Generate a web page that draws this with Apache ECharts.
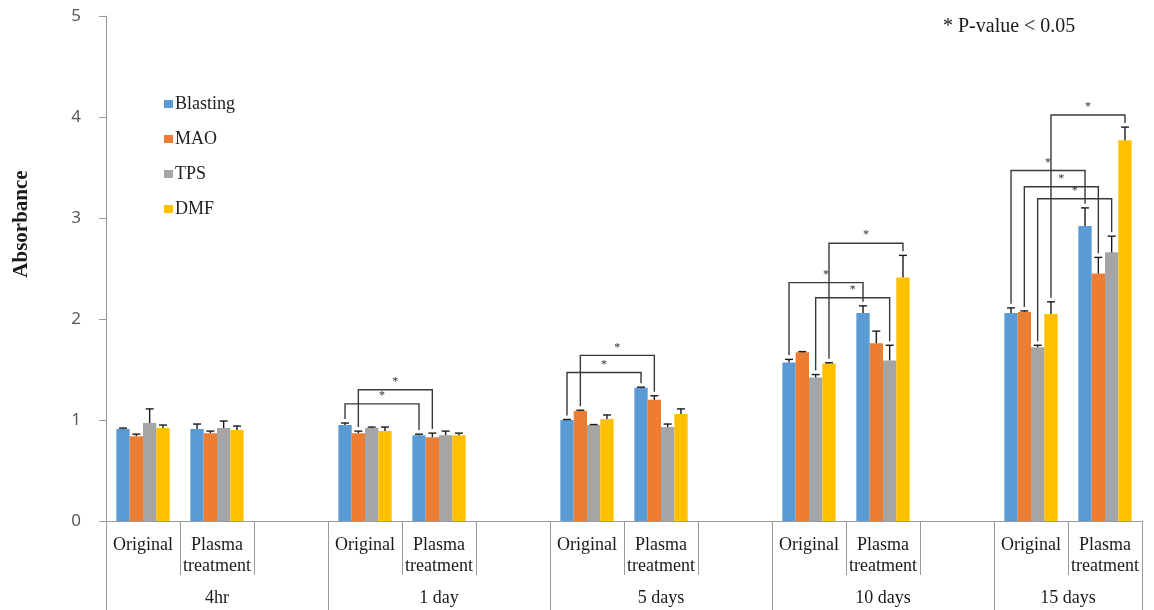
<!DOCTYPE html>
<html>
<head>
<meta charset="utf-8">
<script src="https://cdn.jsdelivr.net/npm/echarts@6/dist/echarts.min.js"></script>
<style>
  html, body { margin: 0; padding: 0; background: #ffffff; }
  #chart { width: 1154px; height: 610px; }
</style>
</head>
<body>
<div id="chart"></div>
<script>
// Culture periods and surface treatments
const groups = ['4hr', '1 day', '5 days', '10 days', '15 days'];
const treatments = ['Original', 'Plasma\ntreatment'];
const seriesNames = ['Blasting', 'MAO', 'TPS', 'DMF'];
const seriesColors = ['#5B9BD5', '#ED7D31', '#A5A5A5', '#FFC000'];

// Mean absorbance, order: 4hr O, 4hr P, 1d O, 1d P, 5d O, 5d P, 10d O, 10d P, 15d O, 15d P
const blasting = [0.91, 0.91, 0.95, 0.85, 1.00, 1.32, 1.57, 2.06, 2.06, 2.92];
const mao      = [0.84, 0.87, 0.87, 0.83, 1.09, 1.20, 1.67, 1.76, 2.07, 2.45];
const tps      = [0.97, 0.92, 0.92, 0.85, 0.95, 0.93, 1.42, 1.59, 1.72, 2.66];
const dmf      = [0.92, 0.90, 0.89, 0.85, 1.01, 1.06, 1.56, 2.41, 2.05, 3.77];

// Standard deviations (upper error bars), same order
const blastingErr = [0.01, 0.05, 0.02, 0.01, 0.005, 0.005, 0.03, 0.07, 0.05, 0.18];
const maoErr      = [0.02, 0.02, 0.02, 0.04, 0.007, 0.04, 0.007, 0.12, 0.01, 0.16];
const tpsErr      = [0.14, 0.07, 0.01, 0.04, 0.005, 0.03, 0.03, 0.15, 0.02, 0.16];
const dmfErr      = [0.03, 0.04, 0.04, 0.02, 0.04, 0.05, 0.007, 0.22, 0.12, 0.13];

// Significant Original vs Plasma comparisons: [group index, series index, bracket level]
const sigPairs = [
  [1, 0, 1.16], [1, 1, 1.30],
  [2, 0, 1.47], [2, 1, 1.64],
  [3, 0, 2.36], [3, 2, 2.21], [3, 3, 2.75],
  [4, 0, 3.47], [4, 1, 3.31], [4, 2, 3.19], [4, 3, 4.02]
];

const yTicks = [0, 1, 2, 3, 4, 5];
const sigNote = '* P-value < 0.05';
const yTitle = 'Absorbance';

const means = [blasting, mao, tps, dmf];
const errs = [blastingErr, maoErr, tpsErr, dmfErr];

// Category slots: Original, Plasma, spacer per period (no spacer after the last)
const slotCats = [];
const slotCond = [];
const groupStart = [];
groups.forEach((g, gi) => {
  groupStart.push(slotCats.length);
  treatments.forEach((t, ti) => { slotCats.push(t); slotCond.push(gi * 2 + ti); });
  if (gi < groups.length - 1) { slotCats.push(''); slotCond.push(-1); }
});
const nSlots = slotCats.length;
const groupBounds = groupStart.concat([nSlots]);
const groupCenters = groups.map((g, gi) => {
  const end = gi < groups.length - 1 ? groupStart[gi + 1] : nSlots;
  return (groupStart[gi] + end) / 2;
});
const slotOf = c => slotCond.indexOf(c);

const CAT_GAP = 0.28;
const serif = 'Liberation Serif';

const barSeries = seriesNames.map((name, si) => ({
  name: name,
  type: 'bar',
  xAxisIndex: 0,
  barGap: '0%',
  barCategoryGap: (CAT_GAP * 100) + '%',
  itemStyle: { color: seriesColors[si] },
  data: slotCond.map(c => (c < 0 ? '-' : means[si][c])),
  silent: true,
  z: 2
}));

function barCenterX(api, slot, si, value) {
  const band = api.size([1, 0])[0];
  const w = band * (1 - CAT_GAP) / seriesNames.length;
  const p = api.coord([slot, value]);
  return [p[0] + (si - (seriesNames.length - 1) / 2) * w, p[1]];
}

const errData = [];
seriesNames.forEach((n, si) => {
  means[si].forEach((m, c) => errData.push([slotOf(c), si, m, m + errs[si][c]]));
});

const errorSeries = {
  type: 'custom',
  xAxisIndex: 0,
  silent: true,
  z: 5,
  encode: { x: 0, y: [2, 3] },
  data: errData,
  renderItem: function (params, api) {
    const slot = api.value(0), si = api.value(1);
    const base = barCenterX(api, slot, si, api.value(2));
    const top = barCenterX(api, slot, si, api.value(3));
    const x = base[0];
    const stroke = { stroke: '#1a1a1a', lineWidth: 1.4 };
    return {
      type: 'group',
      children: [
        { type: 'line', shape: { x1: x, y1: base[1], x2: x, y2: top[1] }, style: stroke },
        { type: 'line', shape: { x1: x - 4, y1: top[1], x2: x + 4, y2: top[1] }, style: stroke }
      ]
    };
  }
};

const LEG_GAP = 0.04;
const bracketData = sigPairs.map(([g, si, level]) => {
  const cO = g * 2, cP = g * 2 + 1;
  return [slotOf(cO), slotOf(cP), si, level,
          means[si][cO] + errs[si][cO] + LEG_GAP,
          means[si][cP] + errs[si][cP] + LEG_GAP];
});

const bracketSeries = {
  type: 'custom',
  xAxisIndex: 0,
  silent: true,
  z: 6,
  encode: { x: [0, 1], y: [3, 4, 5] },
  data: bracketData,
  renderItem: function (params, api) {
    const si = api.value(2);
    const pl = barCenterX(api, api.value(0), si, api.value(4));
    const pr = barCenterX(api, api.value(1), si, api.value(5));
    const top = api.coord([api.value(0), api.value(3)])[1];
    return {
      type: 'group',
      children: [
        {
          type: 'polyline',
          shape: { points: [[pl[0], pl[1]], [pl[0], top], [pr[0], top], [pr[0], pr[1]]] },
          style: { stroke: '#3a3a3a', lineWidth: 1.4, fill: null }
        },
        {
          type: 'text',
          x: (pl[0] + pr[0]) / 2,
          y: top - 2,
          style: { text: '*', font: '12px ' + serif, fill: '#333333', align: 'center', verticalAlign: 'bottom' }
        }
      ]
    };
  }
};

const axisGray = '#9a9a9a';

const option = {
  backgroundColor: '#ffffff',
  animation: false,
  grid: { left: 106, right: 12, top: 16, bottom: 89, containLabel: false },
  legend: {
    orient: 'vertical',
    left: 159,
    top: 90,
    itemWidth: 9,
    itemHeight: 8,
    itemGap: 17,
    icon: 'rect',
    selectedMode: false,
    data: seriesNames,
    textStyle: { fontFamily: serif, fontSize: 18, color: '#222222', lineHeight: 18, padding: [0, 0, 0, -3] }
  },
  xAxis: [
    {
      type: 'category',
      data: slotCats,
      position: 'bottom',
      axisLine: { show: true, lineStyle: { color: axisGray, width: 1 } },
      axisTick: { show: true, length: 54, lineStyle: { color: axisGray, width: 1 } },
      axisLabel: { interval: 0, margin: 14, fontFamily: serif, fontSize: 18, lineHeight: 21, color: '#1a1a1a' },
      splitLine: { show: false }
    },
    {
      type: 'value',
      min: 0,
      max: nSlots,
      position: 'bottom',
      axisLine: { show: false },
      axisTick: { show: true, length: 89, customValues: groupBounds, lineStyle: { color: axisGray, width: 1 } },
      axisLabel: {
        customValues: groupCenters,
        margin: 68,
        fontFamily: serif,
        fontSize: 18,
        color: '#1a1a1a',
        formatter: v => {
          const i = groupCenters.indexOf(v);
          return i >= 0 ? groups[i] : '';
        }
      },
      splitLine: { show: false }
    }
  ],
  yAxis: {
    type: 'value',
    min: yTicks[0],
    max: yTicks[yTicks.length - 1],
    interval: 1,
    axisLine: { show: true, lineStyle: { color: axisGray, width: 1 } },
    axisTick: { show: true, length: 7, lineStyle: { color: axisGray, width: 1 } },
    axisLabel: { margin: 25, fontFamily: 'Noto Sans', fontSize: 17, color: '#595959' },
    splitLine: { show: false }
  },
  graphic: [
    {
      type: 'text',
      x: 22,
      y: 224,
      rotation: Math.PI / 2,
      style: { text: yTitle, font: 'bold 21px ' + serif, fill: '#1a1a1a', align: 'center', verticalAlign: 'middle' }
    },
    {
      type: 'text',
      x: 943,
      y: 27,
      style: { text: sigNote, font: '20px ' + serif, fill: '#1a1a1a', align: 'left', verticalAlign: 'middle' }
    }
  ],
  series: barSeries.concat([errorSeries, bracketSeries])
};

const chart = echarts.init(document.getElementById('chart'), null, { renderer: 'canvas' });
chart.setOption(option);
</script>
</body>
</html>
